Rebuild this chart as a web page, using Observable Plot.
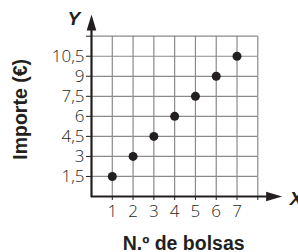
<!DOCTYPE html>
<html><head><meta charset="utf-8">
<script src="https://cdn.jsdelivr.net/npm/d3@7"></script>
<script src="https://cdn.jsdelivr.net/npm/@observablehq/plot@0.6"></script>
<style>body{margin:0;background:#fff}</style>
</head><body><div id="chart"></div>
<script>
const bags = [1, 2, 3, 4, 5, 6, 7];
const cost = [1.5, 3, 4.5, 6, 7.5, 9, 10.5];
const xTicks = [1, 2, 3, 4, 5, 6, 7, 8];
const xTickLabels = ["1", "2", "3", "4", "5", "6", "7", ""];
const yTicks = [1.5, 3, 4.5, 6, 7.5, 9, 10.5, 12];
const yTickLabels = ["1,5", "3", "4,5", "6", "7,5", "9", "10,5", ""];
const xTitle = "N.º de bolsas";
const yTitle = "Importe (€)";
const xAxisName = "X";
const yAxisName = "Y";

const data = bags.map((b, i) => ({bags: b, cost: cost[i]}));
const ink = "#231f20";
const boldFont = "'Liberation Sans', Arial, sans-serif";

// arrowhead with its tip at the origin, pointing up
const arrowHead = {draw(ctx) { ctx.moveTo(0, 0); ctx.lineTo(4.8, 16); ctx.lineTo(-4.8, 16); ctx.closePath(); }};
const xEnd = 9.17, yEnd = 13.62;

const chart = Plot.plot({
  width: 298, height: 252,
  marginLeft: 91, marginRight: 40.7, marginTop: 35.7, marginBottom: 56,
  style: {fontFamily: "'Open Sans', sans-serif", fontSize: "16px", color: ink, background: "#fff", overflow: "visible"},
  x: {domain: [0, 8]},
  y: {domain: [0, 12]},
  marks: [
    Plot.gridX(xTicks, {stroke: "#8a8a8a", strokeOpacity: 1, strokeWidth: 1.2}),
    Plot.gridY(yTicks, {stroke: "#8a8a8a", strokeOpacity: 1, strokeWidth: 1.2}),
    Plot.axisX(xTicks, {tickSize: 4, tickPadding: 4, stroke: ink, fill: ink, fontWeight: 300, fontSize: 17,
      tickFormat: d => xTickLabels[xTicks.indexOf(d)], label: null}),
    Plot.axisY(yTicks, {tickSize: 5, tickPadding: 2, stroke: ink, fill: ink, fontWeight: 300, fontSize: 17,
      tickFormat: d => yTickLabels[yTicks.indexOf(d)], label: null}),
    Plot.ruleY([0], {x1: 0, x2: xEnd - 0.5, stroke: ink, strokeWidth: 2.2}),
    Plot.ruleX([0], {y1: 0, y2: yEnd - 0.8, stroke: ink, strokeWidth: 2.2, strokeLinecap: "square"}),
    Plot.dot([{x: 0, y: yEnd}], {x: "x", y: "y", symbol: arrowHead, fill: ink, stroke: null, r: 5}),
    Plot.dot([{x: xEnd, y: 0}], {x: "x", y: "y", symbol: arrowHead, fill: ink, stroke: null, r: 5, rotate: 90}),
    Plot.dot(data, {x: "bags", y: "cost", r: 4.5, fill: ink, stroke: null}),
    Plot.text([yAxisName], {frameAnchor: "top-left", dx: -24, dy: -25, fontWeight: "bold", fontStyle: "italic", fontSize: 19, fontFamily: boldFont, fill: ink}),
    Plot.text([xAxisName], {frameAnchor: "bottom-right", dx: 32, dy: 8, textAnchor: "start", fontWeight: "bold", fontStyle: "italic", fontSize: 19, fontFamily: boldFont, fill: ink}),
    Plot.text([xTitle], {frameAnchor: "bottom", dx: 9, dy: 53, fontWeight: "bold", fontSize: 19.5, fontFamily: boldFont, fill: ink}),
    Plot.text([yTitle], {frameAnchor: "left", textAnchor: "middle", dx: -71, dy: -7, rotate: -90, fontWeight: "bold", fontSize: 19.5, fontFamily: boldFont, fill: ink})
  ]
});
document.getElementById("chart").append(chart);
</script>
</body></html>
